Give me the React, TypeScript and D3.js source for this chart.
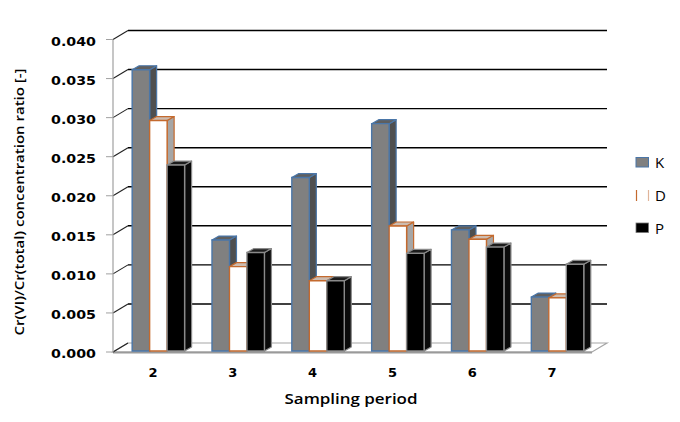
import React from "react";
import * as d3 from "d3";

const categories = ["2", "3", "4", "5", "6", "7"];
const seriesNames = ["K", "D", "P"];
const valuesK = [0.036, 0.0142, 0.0222, 0.0291, 0.0155, 0.0069];
const valuesD = [0.0295, 0.0108, 0.009, 0.016, 0.0143, 0.0068];
const valuesP = [0.0238, 0.0126, 0.009, 0.0125, 0.0133, 0.0111];
const yTicks = [0, 0.005, 0.01, 0.015, 0.02, 0.025, 0.03, 0.035, 0.04];
const yTitle = "Cr(VI)/Cr(total) concentration ratio [-]";
const xTitle = "Sampling period";

const styles = [
  { front: "#808080", top: "#5f5f5f", side: "#4f4f4f", stroke: "#4a76a8" },
  { front: "#ffffff", top: "#cdbcb0", side: "#a6a6a6", stroke: "#c46a2e" },
  { front: "#000000", top: "#1c1c1c", side: "#0a0a0a", stroke: "#8a8a8a" },
];

export default function App() {
  const W = 680, H = 422;
  const x0 = 113, x1 = 592;
  const y = d3.scaleLinear().domain([0, 0.04]).range([352, 39.5]);
  const xb = d3.scaleBand().domain(categories).range([x0, x1]).padding(0);
  const bw = xb.bandwidth();
  const fdx = 15, fdy = -9; // floor depth
  const bdx = 7, bdy = -4; // bar depth
  const barW = bw * 0.219;
  const groupOff = bw * 0.24;
  const series = [valuesK, valuesD, valuesP];
  const base = 351;

  const bars: React.ReactNode[] = [];
  categories.forEach((c, ci) => {
    series.forEach((vals, si) => {
      const st = styles[si];
      const lx = (xb(c) as number) + groupOff + si * barW;
      const rx = lx + barW;
      const ty = y(vals[ci]) - (352 - base);
      const front = `M${lx},${base}L${lx},${ty}L${rx},${ty}L${rx},${base}Z`;
      const top = `M${lx},${ty}L${lx + bdx},${ty + bdy}L${rx + bdx},${ty + bdy}L${rx},${ty}Z`;
      const side = `M${rx},${ty}L${rx + bdx},${ty + bdy}L${rx + bdx},${base + bdy}L${rx},${base}Z`;
      bars.push(
        <g key={`${c}-${si}`}>
          <path d={side} fill={st.side} stroke={st.stroke} strokeWidth={1.2} strokeLinejoin="round" />
          <path d={top} fill={st.top} stroke={st.stroke} strokeWidth={1.2} strokeLinejoin="round" />
          <path d={front} fill={st.front} stroke={st.stroke} strokeWidth={1.4} />
        </g>
      );
    });
  });

  const font = "'Open Sans', 'DejaVu Sans', sans-serif";
  const boldFont = "'DejaVu Sans', Verdana, sans-serif";

  return (
    <svg width={W} height={H} style={{ position: "absolute", left: 0, top: 0, background: "#fff" }}>
      <rect x={0} y={0} width={W} height={H} fill="#fff" />
      {/* floor */}
      <path
        d={`M${x0},${352}L${x0 + fdx},${352 + fdy}L${x1 + fdx},${352 + fdy}L${x1},${352}Z`}
        fill="#fff"
        stroke="#a6a6a6"
        strokeWidth={1.2}
      />
      <line x1={x0} y1={352.5} x2={x1} y2={352.5} stroke="#9a9a9a" strokeWidth={2} />
      {/* back wall gridlines */}
      {yTicks.map((t) =>
        t === 0 ? null : (
          <line key={`g${t}`} x1={x0 + fdx} y1={y(t) + fdy} x2={x1 + fdx} y2={y(t) + fdy} stroke="#000" strokeWidth={1.4} />
        )
      )}
      {/* left wall diagonals */}
      {yTicks.map((t) => (
        <line key={`d${t}`} x1={x0} y1={y(t)} x2={x0 + fdx} y2={y(t) + fdy} stroke="#222" strokeWidth={1.1} />
      ))}
      {/* value axis */}
      <line x1={x0} y1={y(0.04)} x2={x0} y2={352} stroke="#a0a0a0" strokeWidth={1.2} />
      {yTicks.map((t) => (
        <line key={`t${t}`} x1={x0 - 7} y1={y(t)} x2={x0} y2={y(t)} stroke="#a0a0a0" strokeWidth={1} />
      ))}
      {yTicks.map((t) => (
        <text
          key={`l${t}`}
          x={96}
          y={y(t) + 6}
          textAnchor="end"
          fontFamily={boldFont}
          fontWeight="bold"
          fontSize={12.5}
          textLength={45}
          lengthAdjust="spacingAndGlyphs"
          fill="#000"
        >
          {d3.format(".3f")(t)}
        </text>
      ))}
      {bars}
      {/* category labels */}
      {categories.map((c) => (
        <text
          key={`c${c}`}
          x={(xb(c) as number) + bw / 2}
          y={377}
          textAnchor="middle"
          fontFamily={boldFont}
          fontWeight="bold"
          fontSize={13}
          fill="#000"
        >
          {c}
        </text>
      ))}
      <text
        x={351}
        y={404}
        textAnchor="middle"
        fontFamily={font}
        fontWeight={600}
        fontSize={14.5}
        textLength={133}
        lengthAdjust="spacingAndGlyphs"
        fill="#000"
      >
        {xTitle}
      </text>
      <text
        transform={`translate(24,202) rotate(-90)`}
        textAnchor="middle"
        fontFamily={font}
        fontWeight={600}
        fontSize={13}
        textLength={267}
        lengthAdjust="spacingAndGlyphs"
        fill="#000"
      >
        {yTitle}
      </text>
      {/* legend */}
      <g>
        <rect x={636} y={157.5} width={12.5} height={9.5} fill="#808080" stroke="#4a76a8" strokeWidth={1} />
        <text x={655} y={168} fontFamily={font} fontSize={15} fill="#000">{seriesNames[0]}</text>
        <rect x={636} y={190} width={12.5} height={10} fill="#fff" />
        <line x1={636.5} y1={190} x2={636.5} y2={201} stroke="#c46a2e" strokeWidth={1.2} />
        <line x1={648.5} y1={190} x2={648.5} y2={201} stroke="#e0b49a" strokeWidth={1.2} />
        <text x={655} y={201} fontFamily={font} fontSize={15} fill="#000">{seriesNames[1]}</text>
        <rect x={636} y={223} width={12.5} height={9.5} fill="#000" stroke="#777" strokeWidth={0.8} />
        <text x={655} y={233.5} fontFamily={font} fontSize={15} fill="#000">{seriesNames[2]}</text>
      </g>
    </svg>
  );
}
